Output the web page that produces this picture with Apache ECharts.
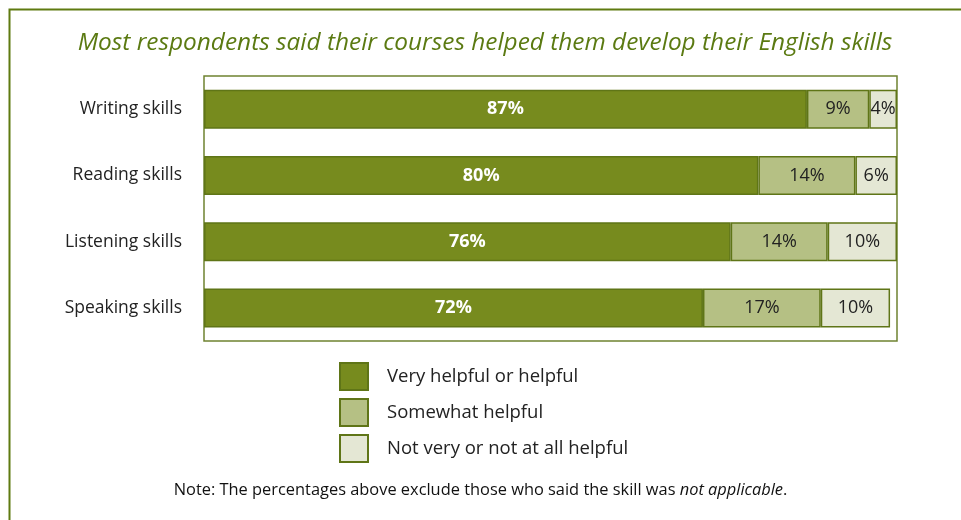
<!DOCTYPE html>
<html>
<head>
<meta charset="utf-8">
<script src="https://cdn.jsdelivr.net/npm/echarts@6/dist/echarts.min.js"></script>
<style>
  html, body { margin: 0; padding: 0; background: #ffffff; }
  #chart { width: 961px; height: 520px; }
</style>
</head>
<body>
<div id="chart"></div>
<script>
// Survey responses: how helpful courses were for each English skill (percent)
const categories = ['Writing skills', 'Reading skills', 'Listening skills', 'Speaking skills'];
const seriesNames = ['Very helpful or helpful', 'Somewhat helpful', 'Not very or not at all helpful'];
const veryHelpful = [87, 80, 76, 72];
const somewhatHelpful = [9, 14, 14, 17];
const notHelpful = [4, 6, 10, 10];

const titleText = 'Most respondents said their courses helped them develop their English skills';
const noteText = 'Note: The percentages above exclude those who said the skill was ';
const noteItalic = 'not applicable';

const FONT = '"Open Sans", "Noto Sans", sans-serif';
const colors = ['#778b1e', '#b5c084', '#e4e7d4'];
const edge = '#5f7517';

const chart = echarts.init(document.getElementById('chart'), null, { renderer: 'canvas' });

function barSeries(name, data, color, labelStyle) {
  return {
    name: name,
    type: 'bar',
    stack: 'total',
    data: data,
    barWidth: 39,
    itemStyle: { color: color, borderColor: edge, borderWidth: 1.5 },
    label: Object.assign({
      show: true,
      position: 'inside',
      fontFamily: FONT,
      fontSize: 18,
      formatter: p => p.value + '%'
    }, labelStyle),
    emphasis: { disabled: true }
  };
}

chart.setOption({
  animation: false,
  backgroundColor: '#ffffff',
  title: {
    text: titleText,
    left: 485,
    textAlign: 'center',
    top: 31,
    padding: 0,
    textStyle: {
      fontFamily: FONT,
      fontStyle: 'italic',
      fontWeight: 'normal',
      fontSize: 24.4,
      color: '#5b7a12'
    }
  },
  grid: {
    left: 204,
    right: 64,
    top: 76,
    height: 265,
    show: true,
    borderColor: '#6f8230',
    borderWidth: 1.5,
    backgroundColor: 'transparent'
  },
  xAxis: {
    type: 'value',
    min: 0,
    max: 100,
    show: false
  },
  yAxis: {
    type: 'category',
    data: categories,
    inverse: true,
    axisLine: { show: false },
    axisTick: { show: false },
    splitLine: { show: false },
    axisLabel: {
      margin: 22,
      fontFamily: FONT,
      fontSize: 17.5,
      color: '#222222'
    }
  },
  legend: {
    orient: 'vertical',
    left: 339,
    top: 362,
    padding: 0,
    itemWidth: 28,
    itemHeight: 27,
    itemGap: 7,
    icon: 'rect',
    selectedMode: false,
    data: seriesNames,
    textStyle: {
      fontFamily: FONT,
      fontSize: 18.5,
      color: '#222222',
      padding: [0, 0, 0, 14]
    }
  },
  series: [
    barSeries(seriesNames[0], veryHelpful, colors[0], { color: '#ffffff', fontWeight: 'bold' }),
    barSeries(seriesNames[1], somewhatHelpful, colors[1], { color: '#222222' }),
    barSeries(seriesNames[2], notHelpful, colors[2], { color: '#222222' })
  ],
  graphic: [
    {
      type: 'rect',
      left: 7,
      top: 7,
      shape: { width: 1100, height: 700 },
      style: { fill: 'none', stroke: '#5f7a10', lineWidth: 2 },
      silent: true
    },
    {
      type: 'text',
      left: 'center',
      top: 482,
      style: {
        text: '{n|' + noteText + '}{i|' + noteItalic + '}{n|.}',
        rich: {
          n: { fontFamily: FONT, fontSize: 16.4, fill: '#111111' },
          i: { fontFamily: FONT, fontSize: 16.4, fontStyle: 'italic', fill: '#111111' }
        }
      },
      silent: true
    }
  ]
});
</script>
</body>
</html>
